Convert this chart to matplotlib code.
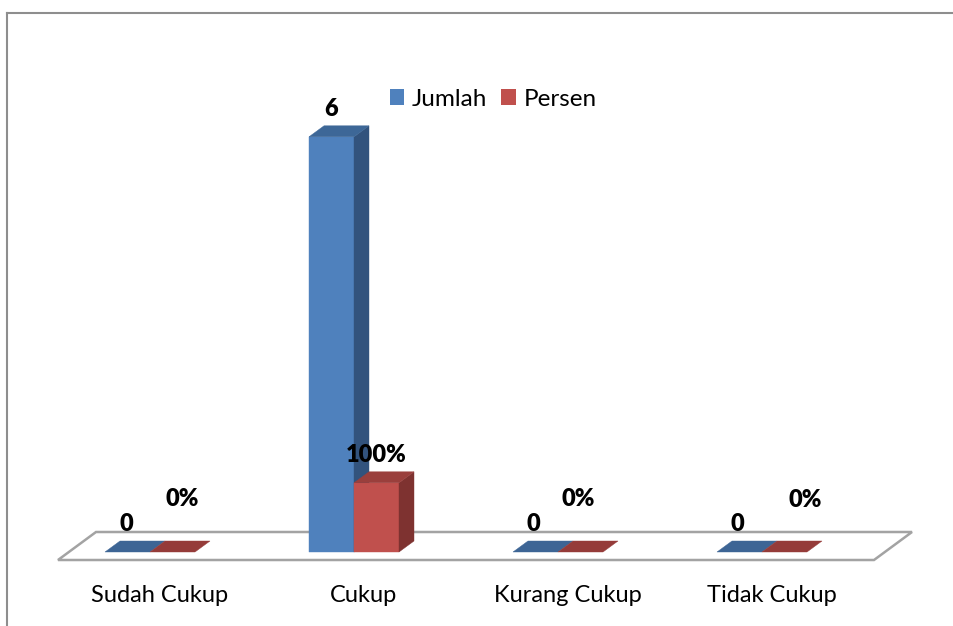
import matplotlib
matplotlib.use('Agg')
import matplotlib.pyplot as plt
from matplotlib.patches import Polygon, Rectangle
from matplotlib.lines import Line2D

# ---- data ----
categories = ['Sudah Cukup', 'Cukup', 'Kurang Cukup', 'Tidak Cukup']
jumlah = [0, 6, 0, 0]
persen = [0.0, 1.0, 0.0, 0.0]          # fraction (1.0 = 100%)
persen_labels = ['0%', '100%', '0%', '0%']
jumlah_labels = ['0', '6', '0', '0']
series_names = ['Jumlah', 'Persen']

# ---- style ----
FONT = 'Lato'
W, H = 954, 626
PX_X = 204.0   # pixels per category slot
PX_Y = 69.2    # pixels per value unit
X0_PX, Y0_PX = 150, 74
BAR_W_PX = 45
DEPTH = (15, 11)
FLOOR_DEPTH = (38, 28)
blue = dict(front='#4F81BD', side='#32537D', top='#3D6797', flat='#3D6595')
red = dict(front='#C0504D', side='#7E3230', top='#9A3F3C', flat='#953B39')
j_off = [(-1, 0), (0, 0), (-2, 0), (-2, 0)]
p_off = [(10, 25), (0, 0), (-2, 25), (21, 24)]

fig = plt.figure(figsize=(W / 100, H / 100), dpi=100)
ax = fig.add_axes([0, 0, 1, 1])
ax.set_xlim(-X0_PX / PX_X, (W - X0_PX) / PX_X)
ax.set_ylim(-Y0_PX / PX_Y, (H - Y0_PX) / PX_Y)
ax.axis('off')


def px(dx, dy):
    return dx / PX_X, dy / PX_Y


bw = BAR_W_PX / PX_X
ddx, ddy = px(*DEPTH)

# floor
off = 10 / PX_X
fy = px(0, -8)[1]
fdx, fdy = px(*FLOOR_DEPTH)
xl, xr = -0.5 + off, 3.5 + off
floor = Polygon([(xl, fy), (xr, fy), (xr + fdx, fy + fdy), (xl + fdx, fy + fdy)],
                closed=True, facecolor='white', edgecolor='#A3A3A3', lw=1.8, zorder=1)
ax.add_patch(floor)


def bar3d(x0, h, c):
    x1 = x0 + bw
    if h == 0:
        ax.add_patch(Polygon([(x0, 0), (x1, 0), (x1 + ddx, ddy), (x0 + ddx, ddy)],
                             facecolor=c['flat'], edgecolor=c['flat'], lw=0.3, zorder=2))
        return
    ax.add_patch(Rectangle((x0, 0), bw, h, facecolor=c['front'], edgecolor=c['front'], lw=0.3, zorder=3))
    ax.add_patch(Polygon([(x1, 0), (x1 + ddx, ddy), (x1 + ddx, h + ddy), (x1, h)],
                         facecolor=c['side'], edgecolor=c['side'], lw=0.3, zorder=3))
    ax.add_patch(Polygon([(x0, h), (x1, h), (x1 + ddx, h + ddy), (x0 + ddx, h + ddy)],
                         facecolor=c['top'], edgecolor=c['top'], lw=0.3, zorder=3))


lab_dy = px(0, 17)[1]
for i in range(len(categories)):
    bar3d(i - bw, jumlah[i], blue)
    bar3d(i, persen[i], red)
    ox, oy = px(*j_off[i])
    ax.text(i - bw / 2 + ox, jumlah[i] + ddy + lab_dy + oy, jumlah_labels[i],
            ha='center', va='center', fontsize=17, fontweight='heavy', family=FONT, zorder=5)
    ox, oy = px(*p_off[i])
    ax.text(i + bw / 2 + ox, persen[i] + ddy + lab_dy + oy, persen_labels[i],
            ha='center', va='center', fontsize=17, fontweight='heavy', family=FONT, zorder=5)
    ax.text(i + off, px(0, 31 - Y0_PX)[1], categories[i], ha='center', va='center',
            fontsize=17, family=FONT, color='#000000')

# legend
handles = [Rectangle((0, 0), 1, 1, facecolor=blue['front']),
           Rectangle((0, 0), 1, 1, facecolor=red['front'])]
ax.legend(handles, series_names, loc='center', bbox_to_anchor=(493 / W, 527 / H),
          bbox_transform=fig.transFigure, ncol=2, frameon=False,
          prop={'family': FONT, 'size': 17.5}, handlelength=0.6, handleheight=0.6,
          handletextpad=0.3, columnspacing=0.6, borderaxespad=0)

# outer frame (partial, cropped)
fig.add_artist(Line2D([7 / W, 1], [1 - 13 / H, 1 - 13 / H], transform=fig.transFigure,
                      color='#8E8E8E', lw=1.5))
fig.add_artist(Line2D([7 / W, 7 / W], [0, 1 - 13 / H], transform=fig.transFigure,
                      color='#8E8E8E', lw=1.5))

fig.savefig('out.png', dpi=100, facecolor='white')
